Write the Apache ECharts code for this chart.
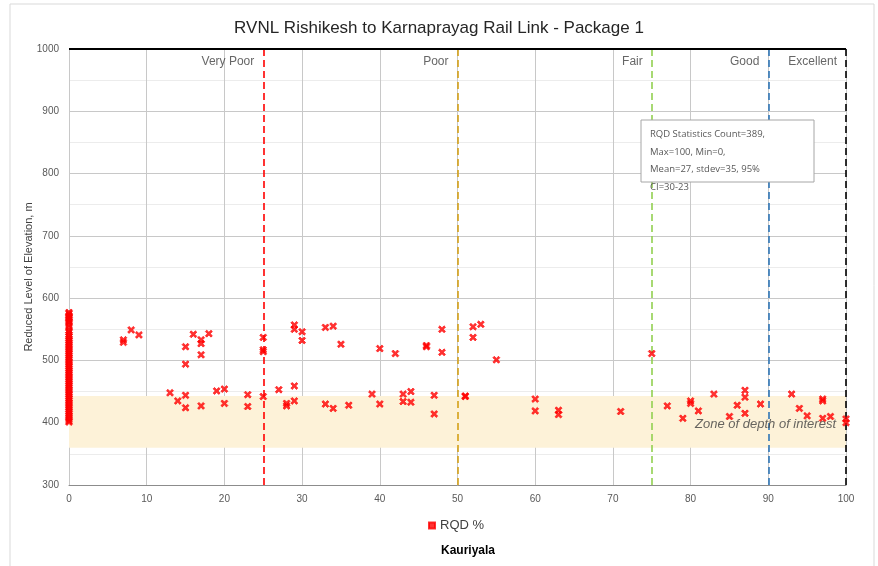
<!DOCTYPE html>
<html><head><meta charset="utf-8">
<script src="https://cdn.jsdelivr.net/npm/echarts@6/dist/echarts.min.js"></script>
<style>html,body{margin:0;padding:0;background:#fff}#c{width:878px;height:566px}</style>
</head><body><div id="c"></div>
<script>
// RQD % at x = 0 (dense column of readings)
const zeroElev = [577,575,572,570,568,566,563,561,557,553,548,545,541,538,535,532,529,526,523,520,517,514,511,508,505,502,499,496,493,490,487,484,481,478,475,472,469,466,463,460,457,454,451,448,445,442,439,436,433,430,427,424,421,418,415,412,409,406,403,401];
// Other readings
const rqd  = [7,7,8,9,13,14,15,15,15,15,16,17,17,17,17,18,19,20,20,23,23,25,25,25,25,27,28,28,29,29,29,29,30,30,33,34,34,33,35,36,39,40,40,42,43,43,44,44,46,46,47,47,48,48,51,51,52,52,53,55,60,60,63,63,71,75,77,79,80,80,81,83,85,86,87,87,87,89,93,94,95,97,97,97,98,100,100];
const elev = [533,529,549,541,448,435,522,494,444,424,542,533,527,509,427,543,451,454,431,445,426,537,517,514,442,453,431,427,459,435,557,550,546,532,553,555,423,430,526,428,446,519,430,511,446,434,450,433,522,524,444,414,550,513,443,442,554,537,558,501,438,419,420,413,418,511,427,407,435,431,419,446,410,428,452,441,415,430,446,423,411,438,435,407,410,406,400];
// Class boundaries
const classBounds = [25,50,75,90,100];
const classNames  = ['Very Poor','Poor','Fair','Good','Excellent'];
const classColors = ['#ff0000','#d4a017','#92d050','#2e75b6','#000000'];
const zoneRange = [360,443];
const zoneText = 'Zone of depth of interest';
const statsText = ['RQD Statistics Count=389,','Max=100, Min=0,','Mean=27, stdev=35, 95%','CI=30-23'];

const pts = zeroElev.map(v => [0, v]).concat(rqd.map((x,i) => [x, elev[i]]));
const xMark = 'path://M0,2 L2,0 L5,3 L8,0 L10,2 L7,5 L10,8 L8,10 L5,7 L2,10 L0,8 L3,5 Z';

const chart = echarts.init(document.getElementById('c'));
chart.setOption({
  animation: false,
  backgroundColor: '#fff',
  title: {text: 'RVNL Rishikesh to Karnaprayag Rail Link - Package 1', left: 'center', top: 15,
    textStyle: {fontFamily: 'Liberation Sans', fontSize: 17, fontWeight: 'normal', color: '#262626'}},
  legend: {data: [{name: 'RQD %', icon: 'rect'}], left: 423, top: 514, itemWidth: 6, itemHeight: 6, itemGap: 4,
    textStyle: {fontFamily: 'Liberation Sans', fontSize: 13, color: '#404040'}},
  grid: {left: 69, right: 32, top: 49, bottom: 81},
  xAxis: {type: 'value', min: 0, max: 100, interval: 10,
    axisLine: {lineStyle: {color: '#8c8c8c'}}, axisTick: {show: false},
    axisLabel: {fontFamily: 'Liberation Sans', fontSize: 10, color: '#595959', margin: 9},
    splitLine: {lineStyle: {color: '#c8c8c8', width: 1}}},
  yAxis: {type: 'value', min: 300, max: 1000, interval: 100,
    axisLine: {show: true, lineStyle: {color: '#c8c8c8'}}, axisTick: {show: false},
    axisLabel: {fontFamily: 'Liberation Sans', fontSize: 10, color: '#595959', margin: 10, formatter: v => String(v)},
    splitLine: {lineStyle: {color: '#c8c8c8'}},
    minorTick: {show: false, splitNumber: 2},
    minorSplitLine: {show: true, lineStyle: {color: '#ececec'}}},
  graphic: [
    {type: 'rect', shape: {x: 10, y: 4, width: 864, height: 570}, style: {fill: 'none', stroke: '#d9d9d9', lineWidth: 1}, z: 0},
    {type: 'rect', shape: {x: 641, y: 120, width: 173, height: 62}, style: {fill: '#fff', stroke: '#a6a6a6', lineWidth: 1}, z: 50},
    {type: 'text', x: 650, y: 126, z: 51, style: {text: statsText.join('\n'), fontFamily: 'Open Sans', fontSize: 9.5, lineHeight: 17.5, fill: '#595959'}},
    {type: 'text', x: 468, y: 551, z: 51, style: {text: 'Kauriyala', align: 'center', verticalAlign: 'middle', fontFamily: 'Liberation Sans', fontSize: 12, fontWeight: 'bold', fill: '#000'}},
    {type: 'text', x: 29, y: 277, rotation: Math.PI / 2, z: 51, style: {text: 'Reduced Level of Elevation, m', align: 'center', verticalAlign: 'middle', fontFamily: 'Liberation Sans', fontSize: 11, fill: '#404040'}}
  ],
  series: [
    {type: 'scatter', name: 'zone', data: [], silent: true,
      markArea: {silent: true, itemStyle: {color: '#fdf2d8'}, data: [[{yAxis: zoneRange[0]}, {yAxis: zoneRange[1]}]]}, z: 1},
    {type: 'scatter', name: 'lines', data: [], silent: true,
      markLine: {silent: true, symbol: 'none', label: {show: false},
        data: classBounds.map((b,i) => ({xAxis: b, lineStyle: {color: classColors[i], type: [7,4], width: 1.6}}))
          .concat([{yAxis: 1000, lineStyle: {color: '#000', type: 'solid', width: 2}}])}, z: 3},
    {type: 'scatter', name: 'RQD %', data: pts, symbol: xMark, symbolSize: 7,
      itemStyle: {color: '#ff0000', borderColor: '#ff0000', borderWidth: 0.8}, z: 5},
    {type: 'scatter', name: 'classLabels', data: classBounds.map((b,i) => ({value: [b, 980], label: {formatter: classNames[i]}})),
      symbolSize: 0, silent: true,
      label: {show: true, position: 'left', distance: 9, fontFamily: 'Liberation Sans', fontSize: 12, color: '#404040'}, z: 6},
    {type: 'scatter', name: 'zoneLabel', data: [{value: [100, 398], label: {formatter: zoneText}}],
      symbolSize: 0, silent: true,
      label: {show: true, position: 'left', distance: 10, fontFamily: 'Liberation Sans', fontSize: 13, fontStyle: 'italic', color: '#404040'}, z: 6}
  ]
});
</script></body></html>
